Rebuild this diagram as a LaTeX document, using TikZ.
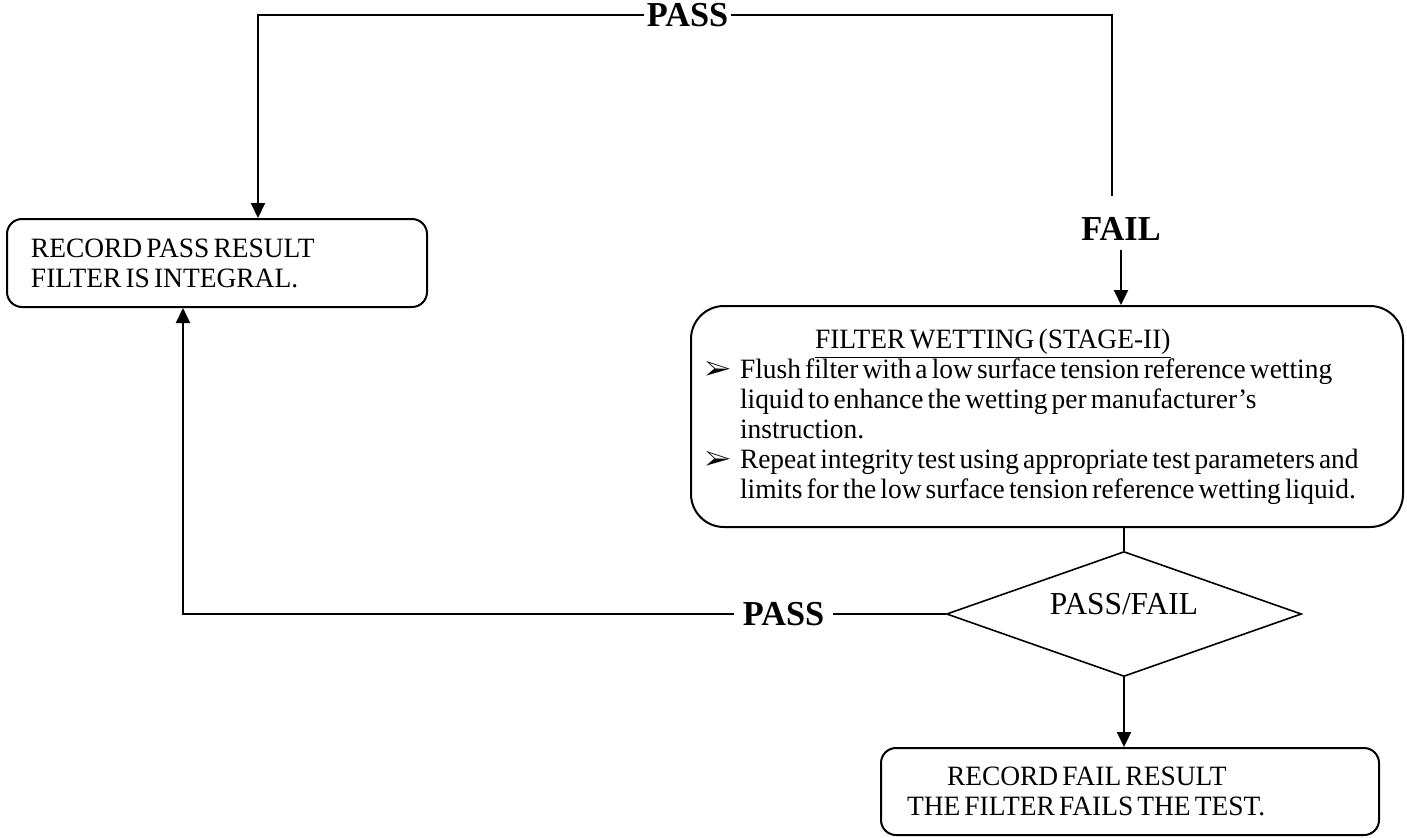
\documentclass[tikz,border=0pt]{standalone}
\usepackage{fontspec}
\setmainfont{Liberation Serif}[FakeStretch=0.98, WordSpace=0.6]
\usepackage{pifont}
\usetikzlibrary{shapes.geometric,arrows.meta}

\begin{document}
\begin{tikzpicture}[
    x=0.5pt, y=-0.5pt,
    line width=1pt,
    box/.style={draw, rounded corners=7.5pt, align=flush left, inner ysep=0pt, font=\fontsize{14}{15}\selectfont},
    decide/.style={draw, shape=diamond, aspect=2.84, line width=0.8pt, minimum width=177.5pt, minimum height=62.5pt, inner sep=0pt, text depth=10pt, font=\fontsize{16}{18}\selectfont},
    tag/.style={font=\fontsize{17.5}{20}\selectfont\bfseries, inner xsep=1pt},
    arr/.style={-{Triangle[length=7.5pt,width=7pt]}},
    thin line/.style={line width=0.6pt}
  ]
  \def\pad{17.5pt}
  \useasboundingbox (0,0) rectangle (1407,837);

  % Boxes
  \node[box, text width=186pt, inner xsep=12pt, minimum height=44pt] (passbox) at (217,263)
    {RECORD PASS RESULT\\FILTER IS INTEGRAL.};
  \node[box, rounded corners=16.5pt, text width=342pt, inner xsep=7pt, minimum height=110.5pt] (wetbox) at (1047,416.5)
    {\hspace*{55pt}\underline{FILTER WETTING (STAGE-II)}\\
     \makebox[\pad][l]{\ding{226}}Flush filter with a low surface tension reference wetting\\
     \hspace*{\pad}liquid to enhance the wetting per manufacturer’s\\
     \hspace*{\pad}instruction.\\
     \makebox[\pad][l]{\ding{226}}Repeat integrity test using appropriate test parameters and\\
     \hspace*{\pad}limits for the low surface tension reference wetting liquid.};
  \node[decide] (decision) at (1124,614) {PASS/FAIL};
  \node[box, text width=223pt, inner xsep=13pt, minimum height=43.5pt] (failbox) at (1130,791.5)
    {\hspace*{20pt}RECORD FAIL RESULT\\THE FILTER FAILS THE TEST.};

  % Labels
  \node[tag] (toppass) at (687.5,15) {PASS};
  \node[tag, inner ysep=4pt] (fail) at (1121,229) {FAIL};
  \node[tag, inner xsep=4pt] (botpass) at (783.5,614) {PASS};
  \coordinate (failtop) at (1112,196);

  % Connectors
  \draw[thin line] (failtop) |- (toppass.east);
  \draw[arr] (toppass.west) -| ([xshift=20.5pt]passbox.north);
  \draw[arr] (fail.south) -- (fail.south |- wetbox.north);
  \draw[thin line] (decision.north |- wetbox.south) -- (decision.north);
  \draw[arr] (decision.south) -- (decision.south |- failbox.north);
  \draw (decision.west) -- (botpass.east);
  \draw[arr] (botpass.west) -| ([xshift=-17pt]passbox.south);
\end{tikzpicture}
\end{document}
